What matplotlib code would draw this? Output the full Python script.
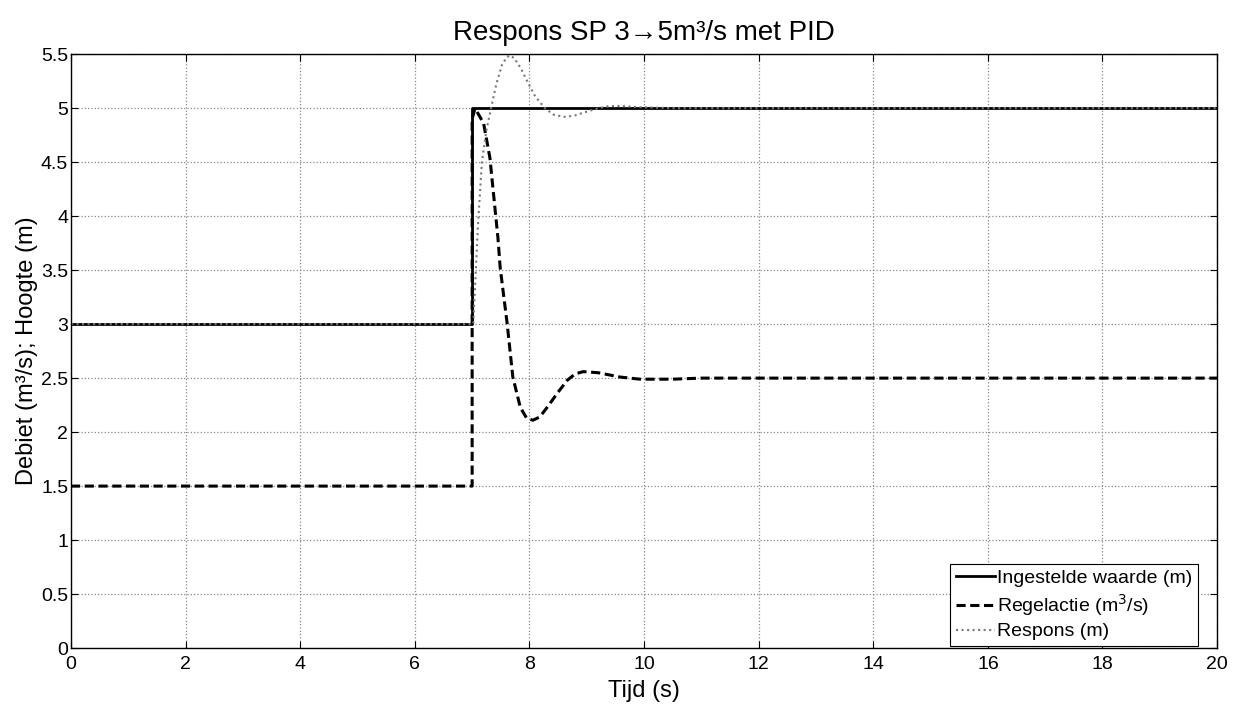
import matplotlib.pyplot as plt
import numpy as np

plt.rcParams['font.family'] = ['Liberation Sans', 'DejaVu Sans']

# setpoint (Ingestelde waarde)
t_sp = [0, 7, 7, 20]
y_sp = [3, 3, 5, 5]

# control action (Regelactie)
t_u = [0, 7.0, 7.0, 7.05, 7.2, 7.31, 7.45, 7.49, 7.61, 7.71, 7.84, 7.95, 8.06, 8.18,
       8.31, 8.5, 8.66, 8.8, 8.94, 9.2, 9.58, 9.93, 10.5, 11, 20]
y_u = [1.5, 1.5, 4.9, 5.0, 4.86, 4.54, 3.80, 3.52, 3.01, 2.51, 2.23, 2.13, 2.11, 2.14,
       2.23, 2.37, 2.48, 2.54, 2.56, 2.55, 2.51, 2.49, 2.49, 2.5, 2.5]

# response (Respons)
t_r = [0, 7.0, 7.02, 7.1, 7.17, 7.25, 7.33, 7.42, 7.52, 7.6, 7.66, 7.74, 7.85, 7.97,
       8.1, 8.27, 8.42, 8.6, 8.78, 8.95, 9.2, 9.4, 9.6, 9.9, 10.5, 20]
y_r = [3, 3, 3.0, 3.9, 4.5, 4.8, 5.0, 5.22, 5.4, 5.47, 5.49, 5.46, 5.37, 5.24,
       5.11, 5.0, 4.94, 4.92, 4.93, 4.96, 5.0, 5.02, 5.02, 5.01, 5.0, 5.0]

fig = plt.figure(figsize=(12.35, 7.04), dpi=100)
ax = fig.add_axes([0.0575, 0.0795, 0.928, 0.8435])

ax.plot(t_sp, y_sp, '-', color='black', lw=2, label='Ingestelde waarde (m)')
ax.plot(t_u, y_u, '--', color='black', lw=2.2, dashes=(3, 1.5), label='Regelactie (m$^3$/s)')
ax.plot(t_r, y_r, ':', color='#777777', lw=1.5, label='Respons (m)')

ax.set_xlim(0, 20)
ax.set_ylim(0, 5.5)
ax.set_xticks(np.arange(0, 21, 2))
ax.set_yticks(np.arange(0, 5.51, 0.5))
ax.set_yticklabels(['0', '0.5', '1', '1.5', '2', '2.5', '3', '3.5', '4', '4.5', '5', '5.5'])
ax.tick_params(direction='in', labelsize=14, top=True, right=True, length=5)
ax.tick_params(axis='y', pad=2)
ax.tick_params(axis='x', pad=6)
ax.grid(True, linestyle=':', color='#888888', lw=0.9)
for s in ax.spines.values():
    s.set_linewidth(1)

ax.set_xlabel('Tijd (s)', fontsize=17, labelpad=5)
ax.set_ylabel('Debiet (m³/s); Hoogte (m)', fontsize=17, labelpad=2)
ax.set_title('Respons SP 3→5m³/s met PID', fontsize=20, pad=10)

leg = ax.legend(loc='lower right', bbox_to_anchor=(0.983, 0.003), fontsize=14,
                handlelength=2.0, handletextpad=0.1,
                fancybox=False, framealpha=1, edgecolor='black', borderpad=0.3,
                labelspacing=0.25, borderaxespad=0)
leg.get_frame().set_linewidth(0.8)

fig.savefig('out.png', dpi=100)
